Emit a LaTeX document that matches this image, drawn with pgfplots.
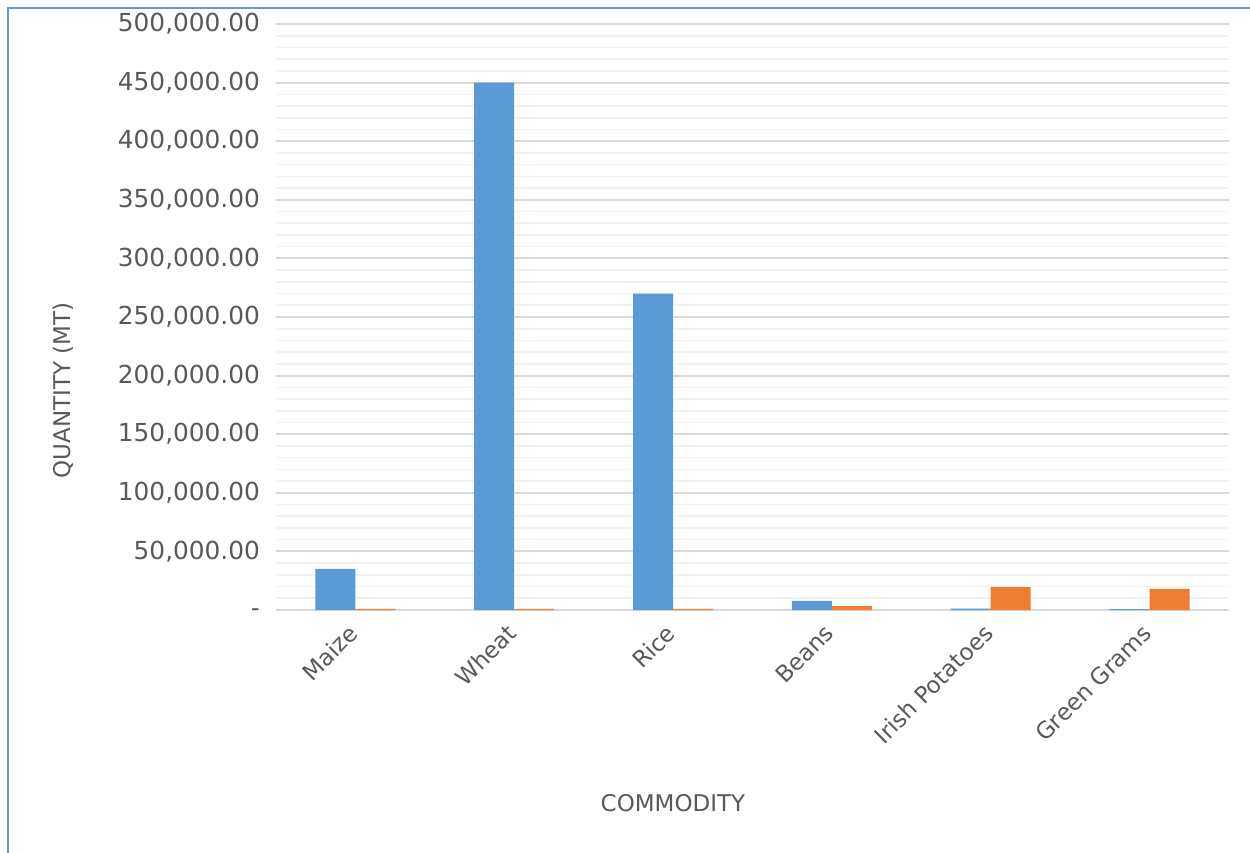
\documentclass[border=0pt]{standalone}
\usepackage{fontspec}
\setmainfont{DejaVu Sans}
\usepackage{pgfplots}
\pgfplotsset{compat=1.18}
\definecolor{barblue}{HTML}{5B9BD5}
\definecolor{barorange}{HTML}{ED7D31}
\definecolor{txtgray}{HTML}{595959}
\definecolor{majgrid}{HTML}{D9D9D9}
\definecolor{mingrid}{HTML}{F2F2F2}

\begin{document}
\begin{tikzpicture}
\useasboundingbox (-138pt,-121.5pt) rectangle (487pt,305pt);
\draw[barblue, line width=0.8pt] (-134pt,-121.5pt) -- (-134pt,301pt) -- (487pt,301pt);
\begin{axis}[
  at={(0,0)}, anchor=south west,
  scale only axis, width=476.5pt, height=293pt,
  ybar=0pt, bar width=20pt,
  xmin=-0.5, xmax=5.5, ymin=0, ymax=500000,
  xtick={0,1,2,3,4,5},
  xticklabels={Maize,Wheat,Rice,Beans,Irish Potatoes,Green Grams},
  ytick={0,50000,100000,150000,200000,250000,300000,350000,400000,450000,500000},
  yticklabels={\smash{\raisebox{-3.3pt}{-}},{50,000.00},{100,000.00},{150,000.00},{200,000.00},{250,000.00},
    {300,000.00},{350,000.00},{400,000.00},{450,000.00},{500,000.00}},
  scaled y ticks=false,
  minor y tick num=4,
  ymajorgrids, yminorgrids,
  major grid style={majgrid, line width=1pt},
  minor grid style={mingrid, line width=0.8pt},
  axis line style={draw=none},
  major tick length=0pt, minor tick length=0pt,
  tick label style={text=txtgray},
  yticklabel style={xshift=-4.5pt, font=\fontsize{12.4}{14}\selectfont},
  x tick label style={rotate=45, anchor=north east, xshift=-4pt, yshift=2pt,
    font=\fontsize{11.5}{14}\selectfont},
  xlabel={COMMODITY}, ylabel={QUANTITY (MT)},
  label style={font=\fontsize{11.5}{14}\selectfont, text=txtgray},
  xlabel style={at={(axis description cs:0.4166,-0.329)}, anchor=center},
  ylabel style={at={(axis description cs:-0.2235,0.375)}, anchor=center},
]
\addplot[fill=barblue, draw=none] coordinates {
  (0,35000) (1,450000) (2,270000) (3,7700) (4,1200) (5,700)
};
\addplot[fill=barorange, draw=none] coordinates {
  (0,900) (1,900) (2,900) (3,3400) (4,19600) (5,18000)
};
\end{axis}
\end{tikzpicture}
\end{document}
